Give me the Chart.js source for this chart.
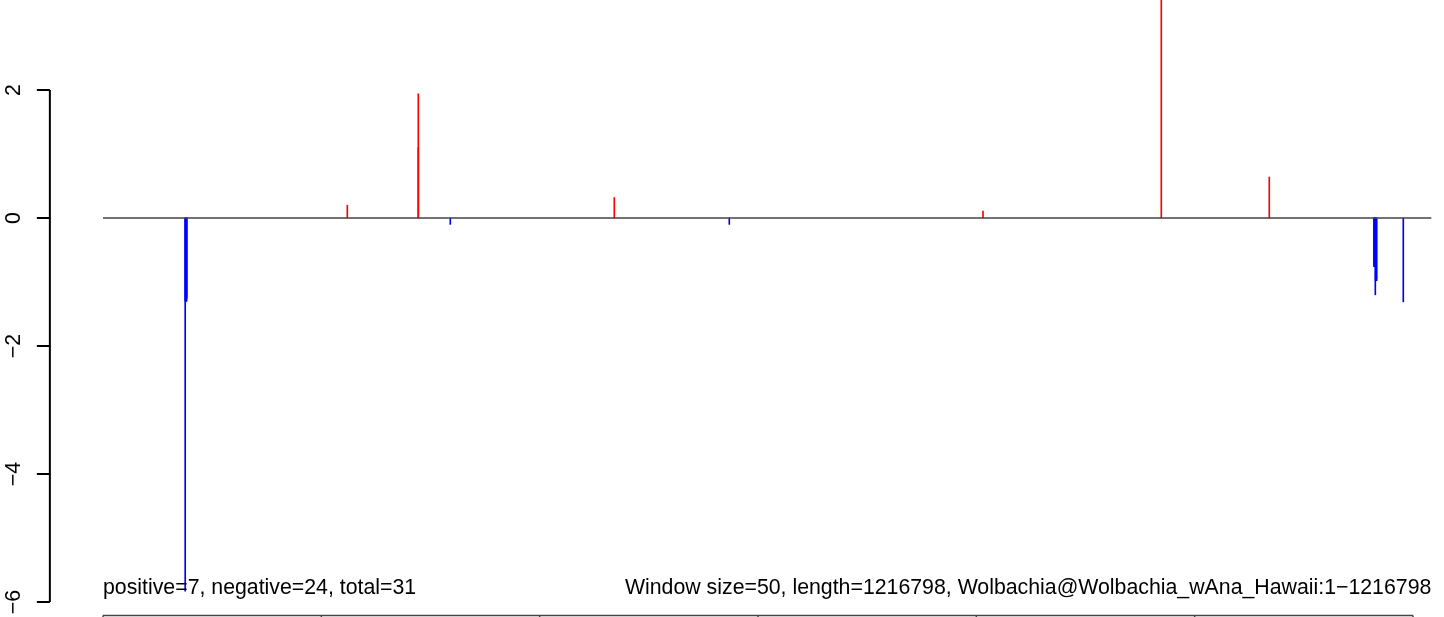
<!DOCTYPE html>
<html>
<head>
<meta charset="utf-8">
<title>Window plot</title>
<script src="https://cdn.jsdelivr.net/npm/chart.js@4.4.1/dist/chart.umd.min.js"></script>
<style>
  body { margin: 0; background: #fff; }
</style>
</head>
<body>
<canvas id="chart" width="1444" height="617"></canvas>
<script>
// sequence length and axis ticks
const genomeLength = 1216798;
const xTicks = [0, 200000, 400000, 600000, 800000, 1000000, 1200000];
const yTicks = [-6, -4, -2, 0, 2];
const yTickLabels = ["\u22126", "\u22124", "\u22122", "0", "2"];

// positive windows (drawn red)
const posX = [223790, 288830, 288840, 468370, 806110, 969430, 1068350];
const posY = [0.20, 1.94, 1.10, 0.32, 0.11, 3.67, 0.64];

// negative windows (drawn blue)
const negX = [75300, 75450, 75600, 75800, 76000, 76200, 76400, 76550, 76700,
  318140, 573700,
  1164300, 1164500, 1164700, 1164900, 1165100, 1165300, 1165480,
  1165700, 1165950, 1166200, 1166450, 1166700,
  1191100];
const negY = [-5.83, -1.30, -1.28, -1.30, -1.27, -1.30, -1.29, -1.30, -1.25,
  -0.10, -0.10,
  -0.76, -0.74, -0.76, -0.75, -0.76, -0.72, -1.20,
  -0.98, -0.97, -0.98, -0.95, -0.98,
  -1.31];

const leftNote = "positive=7, negative=24, total=31";
const rightNote = "Window size=50, length=1216798, Wolbachia@Wolbachia_wAna_Hawaii:1\u22121216798";

// plot region of the original (R pads the ranges by 4%)
const plotXMin = -48672;
const plotYMin = -6.21;
const noteY = -5.875;

const FONT = '21.3px "Liberation Sans", Arial, sans-serif';

//axes and notes drawn R-style on top of the chart
const rAxes = {
  id: "rAxes",
  afterDraw(chart) {
    const { ctx } = chart;
    const xs = chart.scales.x;
    const ys = chart.scales.y;
    const ax = xs.getPixelForValue(plotXMin);

    ctx.save();
    // y axis
    ctx.strokeStyle = "#000";
    ctx.lineWidth = 2;
    ctx.beginPath();
    ctx.moveTo(ax, ys.getPixelForValue(yTicks[0]));
    ctx.lineTo(ax, ys.getPixelForValue(yTicks[yTicks.length - 1]));
    yTicks.forEach((t) => {
      const py = ys.getPixelForValue(t);
      ctx.moveTo(ax - 13, py);
      ctx.lineTo(ax, py);
    });
    ctx.stroke();

    ctx.fillStyle = "#000";
    ctx.font = FONT;
    ctx.textAlign = "center";
    ctx.textBaseline = "alphabetic";
    yTicks.forEach((t, i) => {
      ctx.save();
      ctx.translate(ax - 30, ys.getPixelForValue(t));
      ctx.rotate(-Math.PI / 2);
      ctx.fillText(yTickLabels[i], 0, 0);
      ctx.restore();
    });

    // x axis (labels fall below the picture)
    const by = ys.getPixelForValue(plotYMin);
    ctx.strokeStyle = "#444";
    ctx.lineWidth = 1.5;
    ctx.beginPath();
    ctx.moveTo(xs.getPixelForValue(xTicks[0]), by);
    ctx.lineTo(xs.getPixelForValue(xTicks[xTicks.length - 1]), by);
    xTicks.forEach((t) => {
      const px = xs.getPixelForValue(t);
      ctx.moveTo(px, by);
      ctx.lineTo(px, by + 12);
    });
    ctx.stroke();

    // notes
    ctx.fillStyle = "#000";
    ctx.textAlign = "left";
    ctx.fillText(leftNote, xs.getPixelForValue(0), ys.getPixelForValue(noteY));
    ctx.textAlign = "right";
    ctx.fillText(rightNote, xs.getPixelForValue(genomeLength), ys.getPixelForValue(noteY));
    ctx.restore();
  },
};

new Chart(document.getElementById("chart"), {
  type: "bar",
  data: {
    datasets: [
      {
        type: "line",
        data: [{ x: 0, y: 0 }, { x: genomeLength, y: 0 }],
        borderColor: "#444",
        borderWidth: 1.5,
        pointRadius: 0,
        order: 0,
      },
      {
        data: posX.map((x, i) => ({ x: x, y: posY[i] })),
        backgroundColor: "#ff0000",
        barThickness: 1,
        grouped: false,
        order: 1,
      },
      {
        data: negX.map((x, i) => ({ x: x, y: negY[i] })),
        backgroundColor: "#0000ff",
        barThickness: 1,
        grouped: false,
        order: 1,
      },
    ],
  },
  options: {
    responsive: false,
    animation: false,
    layout: { padding: 0 },
    plugins: {
      legend: { display: false },
      tooltip: { enabled: false },
    },
    scales: {
      x: {
        type: "linear",
        display: false,
        offset: false,
        min: -94351,
        max: 1228396,
      },
      y: {
        display: false,
        min: -6.234,
        max: 3.406,
      },
    },
  },
  plugins: [rAxes],
});
</script>
</body>
</html>
